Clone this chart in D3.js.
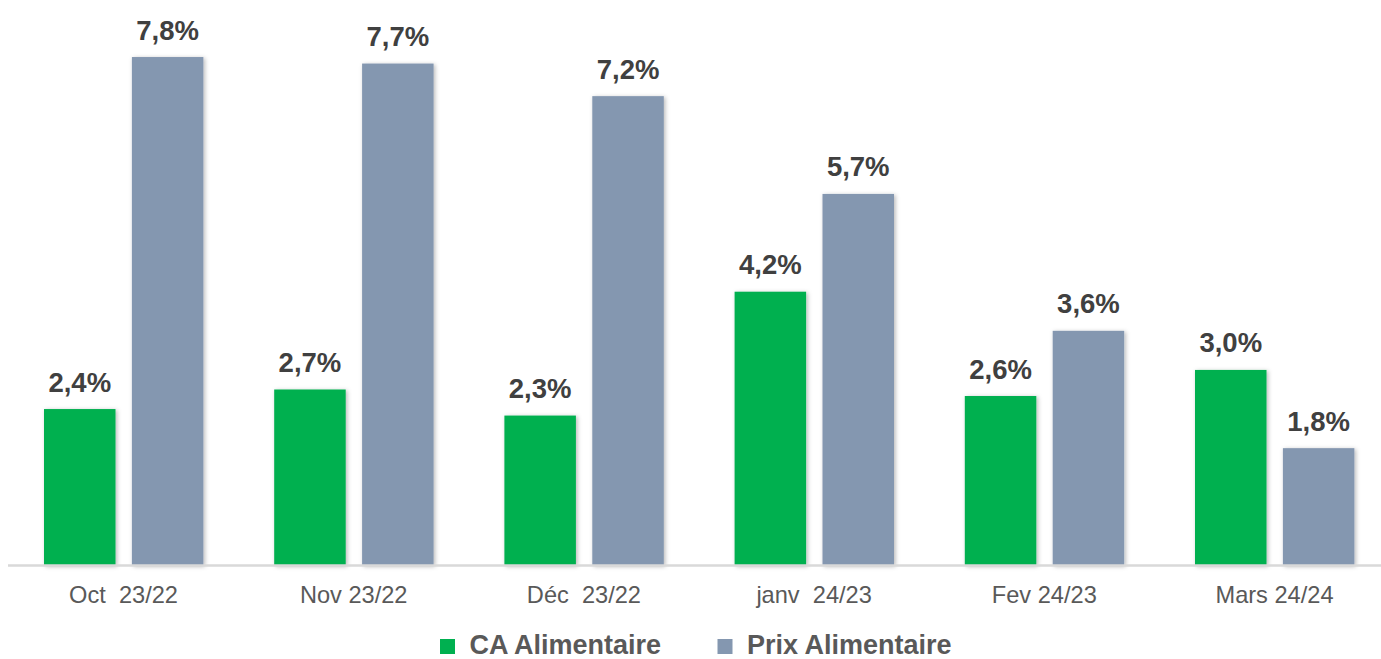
<!DOCTYPE html>
<html>
<head>
<meta charset="utf-8">
<script src="https://cdn.jsdelivr.net/npm/d3@7"></script>
<style>
  html, body { margin: 0; padding: 0; background: #fff; }
  svg { display: block; font-family: "Liberation Sans", Arial, sans-serif; }
  text { white-space: pre; }
</style>
</head>
<body>
<svg id="chart" width="1381" height="659"></svg>
<script>
const categories = ["Oct  23/22", "Nov 23/22", "Déc  23/22", "janv  24/23", "Fev 24/23", "Mars 24/24"];
const seriesNames = ["CA Alimentaire", "Prix Alimentaire"];
const caValues = [2.4, 2.7, 2.3, 4.2, 2.6, 3.0];
const prixValues = [7.8, 7.7, 7.2, 5.7, 3.6, 1.8];
const seriesColors = ["#00B050", "#8497B0"];

const svg = d3.select("#chart");
const W = 1381, H = 659;

const defs = svg.append("defs");
const f = defs.append("filter").attr("id", "shadow")
  .attr("x", "-20%").attr("y", "-5%").attr("width", "140%").attr("height", "110%");
f.append("feDropShadow").attr("dx", 1.5).attr("dy", 1).attr("stdDeviation", 2)
  .attr("flood-color", "#000").attr("flood-opacity", 0.28);

const step = 230.2, x0Start = 8.4;
const x0 = d3.scaleBand().domain(categories).range([x0Start, x0Start + step * categories.length]).padding(0);
const x1 = d3.scaleBand().domain(seriesNames).range([35.6, 195]).paddingInner(0.1865).paddingOuter(0);
const y = d3.scaleLinear().domain([0, 8]).range([565.5, 44]);

const data = categories.map((c, i) => ({
  cat: c,
  vals: [
    { s: seriesNames[0], v: caValues[i], color: seriesColors[0] },
    { s: seriesNames[1], v: prixValues[i], color: seriesColors[1] }
  ]
}));

const fmt = v => d3.format(".1f")(v).replace(".", ",") + "%";

const groups = svg.append("g").selectAll("g").data(data).join("g")
  .attr("transform", d => `translate(${x0(d.cat)},0)`);

groups.selectAll("rect").data(d => d.vals).join("rect")
  .attr("x", d => x1(d.s))
  .attr("width", x1.bandwidth())
  .attr("y", d => y(d.v))
  .attr("height", d => y(0) - y(d.v))
  .attr("fill", d => d.color)
  .attr("filter", "url(#shadow)");

groups.selectAll("text.val").data(d => d.vals).join("text")
  .attr("class", "val")
  .attr("x", d => x1(d.s) + x1.bandwidth() / 2)
  .attr("y", d => y(d.v) - 17.5)
  .attr("text-anchor", "middle")
  .attr("font-size", "27.5px")
  .attr("font-weight", "bold")
  .attr("fill", "#404040")
  .text(d => fmt(d.v));

// baseline axis
const xAxis = d3.axisBottom(x0).tickSize(0).tickPadding(0);
const axisG = svg.append("g").attr("transform", `translate(0,${y(0)})`).call(xAxis);
axisG.select(".domain").attr("d", `M8,0H${W}`).attr("stroke", "#D9D9D9").attr("stroke-width", 2.5);
axisG.selectAll(".tick text")
  .attr("y", 37.8).attr("dy", null)
  .attr("font-size", "23.6px")
  .attr("font-family", "'Liberation Sans', Arial, sans-serif")
  .attr("fill", "#595959");

// legend
const legendItems = [
  { name: seriesNames[0], color: seriesColors[0], x: 440 },
  { name: seriesNames[1], color: seriesColors[1], x: 717.5 }
];
const lg = svg.append("g").selectAll("g").data(legendItems).join("g")
  .attr("transform", d => `translate(${d.x},0)`);
lg.append("rect").attr("x", 0).attr("y", 639).attr("width", 15).attr("height", 15)
  .attr("fill", d => d.color);
lg.append("text").attr("x", 29.5).attr("y", 653.5)
  .attr("font-size", "27px").attr("font-weight", "bold").attr("fill", "#595959")
  .text(d => d.name);
</script>
</body>
</html>
